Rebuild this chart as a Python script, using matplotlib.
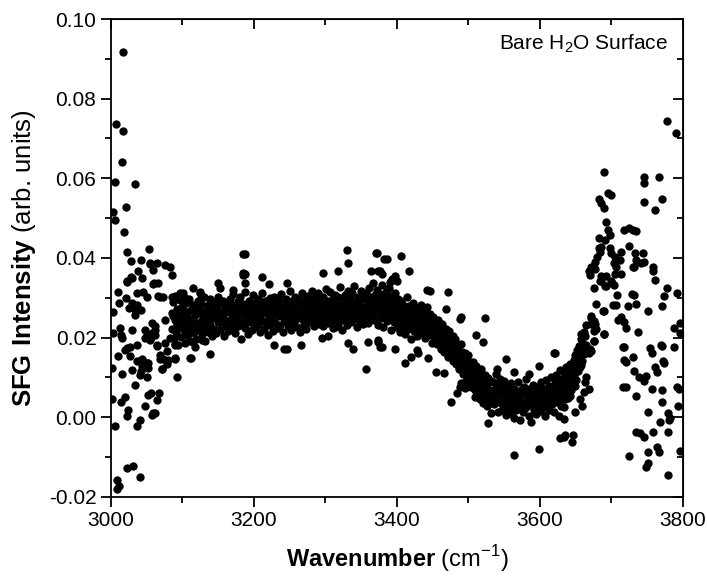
import numpy as np
import matplotlib
matplotlib.use("Agg")
import matplotlib.pyplot as plt
from matplotlib.ticker import MultipleLocator

plt.rcParams['font.family'] = ['Liberation Sans', 'DejaVu Sans']
plt.rcParams['mathtext.fontset'] = 'custom'
plt.rcParams['mathtext.rm'] = 'Liberation Sans'
plt.rcParams['mathtext.bf'] = 'Liberation Sans:bold'

# scattered points at the low-frequency edge (wavenumber, intensity)
left_edge = [
    (3017, 0.0918), (3007, 0.0737), (3017, 0.0720), (3016, 0.0640), (3006, 0.0590),
    (3033, 0.0585), (3021, 0.0527), (3003, 0.0515), (3005, 0.0495), (3018, 0.0464),
    (3022, 0.0414), (3053, 0.0423), (3028, 0.0392), (3042, 0.0395), (3055, 0.0386),
    (3065, 0.0387), (3076, 0.0382), (3082, 0.0377), (3059, 0.0370), (3038, 0.0366),
    (3085, 0.0356), (3044, 0.0350), (3029, 0.0350), (3023, 0.0341), (3060, 0.0337),
    (3010, 0.0315), (3011, 0.0286), (3021, 0.0299), (3029, 0.0288), (3036, 0.0282),
    (3045, 0.0315), (3050, 0.0301), (3036, 0.0311), (3025, 0.0274), (3033, 0.0270),
    (3037, 0.0272), (3042, 0.0270), (3003, 0.0265), (3034, 0.0257), (3066, 0.0304),
    (3073, 0.0303), (3085, 0.0303), (3096, 0.0311), (3103, 0.0299), (3115, 0.0324),
    (3124, 0.0311), (3075, 0.0244), (3087, 0.0253), (3092, 0.0228), (3099, 0.0244),
    (3106, 0.0265), (3113, 0.0270), (3124, 0.0294), (3127, 0.0244), (3117, 0.0219),
    (3110, 0.0211), (3103, 0.0186), (3115, 0.0190), (3127, 0.0194), (3112, 0.0148),
    (3013, 0.0224), (3014, 0.0207), (3003, 0.0211), (3030, 0.0219), (3015, 0.0198),
    (3048, 0.0219), (3051, 0.0207), (3057, 0.0211), (3062, 0.0207), (3062, 0.0228),
    (3048, 0.0198), (3055, 0.0196), (3027, 0.0177), (3022, 0.0173), (3019, 0.0169),
    (3037, 0.0182), (3064, 0.0180), (3075, 0.0186), (3083, 0.0198), (3090, 0.0184),
    (3078, 0.0165), (3069, 0.0156), (3073, 0.0146), (3010, 0.0154), (3027, 0.0154),
    (3036, 0.0141), (3044, 0.0146), (3050, 0.0136), (3044, 0.0128), (3052, 0.0124),
    (3001, 0.0124), (3029, 0.0118), (3015, 0.0109), (3041, 0.0106), (3051, 0.0102),
    (3071, 0.0121), (3079, 0.0134), (3090, 0.0146), (3093, 0.0100), (3033, 0.0081),
    (3052, 0.0056), (3056, 0.0060), (3067, 0.0060), (3064, 0.0043), (3048, 0.0029),
    (3059, 0.0010), (3057, 0.0006), (3001, 0.0046), (3019, 0.0050), (3014, 0.0037),
    (3024, 0.0017), (3023, 0.0002), (3041, -0.0007), (3037, -0.0022), (3005, -0.0022),
    (3023, -0.0128), (3031, -0.0122), (3041, -0.0151), (3008, -0.0157), (3011, -0.0174),
    (3009, -0.0180), (3054, 0.0194), (3057, 0.0236), (3061, 0.0219), (3064, 0.0182),
    (3043, 0.0144), (3052, 0.0136), (3042, 0.0115), (3069, 0.0146), (3072, 0.0121),
    (3080, 0.0144), (3090, 0.0148), (3111, 0.0148), (3090, 0.0182), (3069, 0.0303),
    (3066, 0.0338), (3059, 0.0335), (3054, 0.0384), (3061, 0.0010), (3022, 0.0340),
    (3028, 0.0351),
]

# main band, one point per wavenumber
band_wn = [
    3085, 3086, 3087, 3088, 3089, 3090, 3091, 3092, 3093, 3094,
    3095, 3096, 3097, 3098, 3099, 3100, 3101, 3102, 3103, 3104,
    3105, 3106, 3107, 3108, 3109, 3110, 3111, 3112, 3113, 3114,
    3115, 3116, 3117, 3118, 3119, 3120, 3121, 3122, 3123, 3124,
    3125, 3126, 3127, 3128, 3129, 3130, 3131, 3132, 3133, 3134,
    3135, 3136, 3137, 3138, 3139, 3140, 3141, 3142, 3143, 3144,
    3145, 3146, 3147, 3148, 3149, 3150, 3151, 3152, 3153, 3154,
    3155, 3156, 3157, 3158, 3159, 3160, 3161, 3162, 3163, 3164,
    3165, 3166, 3167, 3168, 3169, 3170, 3171, 3172, 3173, 3174,
    3175, 3176, 3177, 3178, 3179, 3180, 3181, 3182, 3183, 3184,
    3185, 3186, 3187, 3188, 3189, 3190, 3191, 3192, 3193, 3194,
    3195, 3196, 3197, 3198, 3199, 3200, 3201, 3202, 3203, 3204,
    3205, 3206, 3207, 3208, 3209, 3210, 3211, 3212, 3213, 3214,
    3215, 3216, 3217, 3218, 3219, 3220, 3221, 3222, 3223, 3224,
    3225, 3226, 3227, 3228, 3229, 3230, 3231, 3232, 3233, 3234,
    3235, 3236, 3237, 3238, 3239, 3240, 3241, 3242, 3243, 3244,
    3245, 3246, 3247, 3248, 3249, 3250, 3251, 3252, 3253, 3254,
    3255, 3256, 3257, 3258, 3259, 3260, 3261, 3262, 3263, 3264,
    3265, 3266, 3267, 3268, 3269, 3270, 3271, 3272, 3273, 3274,
    3275, 3276, 3277, 3278, 3279, 3280, 3281, 3282, 3283, 3284,
    3285, 3286, 3287, 3288, 3289, 3290, 3291, 3292, 3293, 3294,
    3295, 3296, 3297, 3298, 3299, 3300, 3301, 3302, 3303, 3304,
    3305, 3306, 3307, 3308, 3309, 3310, 3311, 3312, 3313, 3314,
    3315, 3316, 3317, 3318, 3319, 3320, 3321, 3322, 3323, 3324,
    3325, 3326, 3327, 3328, 3329, 3330, 3331, 3332, 3333, 3334,
    3335, 3336, 3337, 3338, 3339, 3340, 3341, 3342, 3343, 3344,
    3345, 3346, 3347, 3348, 3349, 3350, 3351, 3352, 3353, 3354,
    3355, 3356, 3357, 3358, 3359, 3360, 3361, 3362, 3363, 3364,
    3365, 3366, 3367, 3368, 3369, 3370, 3371, 3372, 3373, 3374,
    3375, 3376, 3377, 3378, 3379, 3380, 3381, 3382, 3383, 3384,
    3385, 3386, 3387, 3388, 3389, 3390, 3391, 3392, 3393, 3394,
    3395, 3396, 3397, 3398, 3399, 3400, 3401, 3402, 3403, 3404,
    3405, 3406, 3407, 3408, 3409, 3410, 3411, 3412, 3413, 3414,
    3415, 3416, 3417, 3418, 3419, 3420, 3421, 3422, 3423, 3424,
    3425, 3426, 3427, 3428, 3429, 3430, 3431, 3432, 3433, 3434,
    3435, 3436, 3437, 3438, 3439, 3440, 3441, 3442, 3443, 3444,
    3445, 3446, 3447, 3448, 3449, 3450, 3451, 3452, 3453, 3454,
    3455, 3456, 3457, 3458, 3459, 3460, 3461, 3462, 3463, 3464,
    3465, 3466, 3467, 3468, 3469, 3470, 3471, 3472, 3473, 3474,
    3475, 3476, 3477, 3478, 3479, 3480, 3481, 3482, 3483, 3484,
    3485, 3486, 3487, 3488, 3489, 3490, 3491, 3492, 3493, 3494,
    3495, 3496, 3497, 3498, 3499, 3500, 3501, 3502, 3503, 3504,
    3505, 3506, 3507, 3508, 3509, 3510, 3511, 3512, 3513, 3514,
    3515, 3516, 3517, 3518, 3519, 3520, 3521, 3522, 3523, 3524,
    3525, 3526, 3527, 3528, 3529, 3530, 3531, 3532, 3533, 3534,
    3535, 3536, 3537, 3538, 3539, 3540, 3541, 3542, 3543, 3544,
    3545, 3546, 3547, 3548, 3549, 3550, 3551, 3552, 3553, 3554,
    3555, 3556, 3557, 3558, 3559, 3560, 3561, 3562, 3563, 3564,
    3565, 3566, 3567, 3568, 3569, 3570, 3571, 3572, 3573, 3574,
    3575, 3576, 3577, 3578, 3579, 3580, 3581, 3582, 3583, 3584,
    3585, 3586, 3587, 3588, 3589, 3590, 3591, 3592, 3593, 3594,
    3595, 3596, 3597, 3598, 3599, 3600, 3601, 3602, 3603, 3604,
    3605, 3606, 3607, 3608, 3609, 3610, 3611, 3612, 3613, 3614,
    3615, 3616, 3617, 3618, 3619, 3620, 3621, 3622, 3623, 3624,
    3625, 3626, 3627, 3628, 3629, 3630, 3631, 3632, 3633, 3634,
    3635, 3636, 3637, 3638, 3639, 3640, 3641, 3642, 3643, 3644,
    3645, 3646, 3647, 3648, 3649, 3650, 3651, 3652, 3653, 3654,
    3655, 3656, 3657, 3658, 3659, 3660, 3661, 3662, 3663, 3664,
]
band_sfg = [
    0.0262, 0.0221, 0.0289, 0.0198, 0.0245, 0.0305, 0.0213, 0.0271, 0.0236, 0.0182,
    0.0258, 0.0294, 0.0227, 0.0201, 0.0276, 0.0249, 0.0312, 0.0219, 0.0265, 0.0233,
    0.0287, 0.0206, 0.0252, 0.0229, 0.0298, 0.0241, 0.0191, 0.0268, 0.0224, 0.0282,
    0.0247, 0.0214, 0.0279, 0.0256, 0.0197, 0.0236, 0.0291, 0.0262, 0.0218, 0.0273,
    0.0231, 0.0284, 0.0209, 0.0258, 0.0244, 0.0301, 0.0226, 0.0192, 0.0267, 0.0239,
    0.0281, 0.0215, 0.0254, 0.0297, 0.0232, 0.0263, 0.0205, 0.0276, 0.0248, 0.0222,
    0.0289, 0.0257, 0.0211, 0.0271, 0.0238, 0.0302, 0.0246, 0.0219, 0.0284, 0.0261,
    0.0228, 0.0293, 0.0252, 0.0203, 0.0269, 0.0241, 0.0286, 0.0234, 0.0275, 0.0216,
    0.0264, 0.0298, 0.0243, 0.0225, 0.0281, 0.0255, 0.0309, 0.0237, 0.0268, 0.0212,
    0.0277, 0.0249, 0.0291, 0.0229, 0.0262, 0.0303, 0.0241, 0.0196, 0.0272, 0.0285,
    0.0236, 0.0259, 0.0314, 0.0223, 0.0281, 0.0247, 0.0266, 0.0208, 0.0293, 0.0254,
    0.0238, 0.0279, 0.0219, 0.0306, 0.0261, 0.0244, 0.0287, 0.0227, 0.0272, 0.0252,
    0.0296, 0.0233, 0.0268, 0.0214, 0.0283, 0.0258, 0.0311, 0.0242, 0.0276, 0.0221,
    0.0263, 0.0292, 0.0239, 0.0274, 0.0206, 0.0287, 0.0251, 0.0299, 0.0231, 0.0266,
    0.0245, 0.0281, 0.0217, 0.0302, 0.0258, 0.0236, 0.0289, 0.0271, 0.0224, 0.0295,
    0.0253, 0.0278, 0.0232, 0.0309, 0.0264, 0.0213, 0.0286, 0.0248, 0.0274, 0.0241,
    0.0297, 0.0259, 0.0228, 0.0283, 0.0245, 0.0316, 0.0267, 0.0219, 0.0291, 0.0255,
    0.0272, 0.0236, 0.0303, 0.0261, 0.0284, 0.0226, 0.0296, 0.0249, 0.0277, 0.0215,
    0.0288, 0.0257, 0.0312, 0.0243, 0.0269, 0.0231, 0.0294, 0.0266, 0.0221, 0.0282,
    0.0251, 0.0305, 0.0274, 0.0238, 0.0291, 0.0262, 0.0318, 0.0246, 0.0279, 0.0228,
    0.0299, 0.0264, 0.0241, 0.0286, 0.0256, 0.0311, 0.0233, 0.0276, 0.0294, 0.0249,
    0.0271, 0.0228, 0.0302, 0.0259, 0.0285, 0.0244, 0.0321, 0.0267, 0.0236, 0.0292,
    0.0256, 0.0281, 0.0314, 0.0242, 0.0273, 0.0297, 0.0225, 0.0288, 0.0261, 0.0306,
    0.0248, 0.0279, 0.0234, 0.0301, 0.0266, 0.0327, 0.0253, 0.0284, 0.0219, 0.0295,
    0.0272, 0.0245, 0.0308, 0.0262, 0.0289, 0.0231, 0.0316, 0.0276, 0.0252, 0.0298,
    0.0267, 0.0239, 0.0311, 0.0283, 0.0257, 0.0329, 0.0246, 0.0293, 0.0274, 0.0226,
    0.0302, 0.0264, 0.0287, 0.0241, 0.0318, 0.0271, 0.0253, 0.0296, 0.0234, 0.0309,
    0.0277, 0.0249, 0.0313, 0.0268, 0.0291, 0.0236, 0.0324, 0.0259, 0.0282, 0.0302,
    0.0255, 0.0336, 0.0273, 0.0244, 0.0307, 0.0286, 0.0261, 0.0319, 0.0232, 0.0294,
    0.0271, 0.0309, 0.0248, 0.0285, 0.0332, 0.0263, 0.0226, 0.0297, 0.0254, 0.0314,
    0.0279, 0.0242, 0.0306, 0.0268, 0.0325, 0.0251, 0.0289, 0.0219, 0.0301, 0.0264,
    0.0285, 0.0238, 0.0311, 0.0259, 0.0276, 0.0227, 0.0298, 0.0247, 0.0269, 0.0214,
    0.0292, 0.0241, 0.0263, 0.0224, 0.0281, 0.0256, 0.0208, 0.0272, 0.0236, 0.0301,
    0.0249, 0.0221, 0.0278, 0.0234, 0.0258, 0.0197, 0.0267, 0.0243, 0.0286, 0.0216,
    0.0254, 0.0229, 0.0274, 0.0205, 0.0246, 0.0263, 0.0218, 0.0239, 0.0281, 0.0226,
    0.0252, 0.0211, 0.0268, 0.0235, 0.0199, 0.0257, 0.0224, 0.0276, 0.0241, 0.0206,
    0.0229, 0.0258, 0.0208, 0.0241, 0.0187, 0.0252, 0.0221, 0.0198, 0.0243, 0.0212,
    0.0228, 0.0184, 0.0213, 0.0244, 0.0195, 0.0226, 0.0171, 0.0207, 0.0234, 0.0189,
    0.0211, 0.0163, 0.0196, 0.0222, 0.0176, 0.0205, 0.0152, 0.0188, 0.0216, 0.0168,
    0.0192, 0.0153, 0.0178, 0.0205, 0.0141, 0.0171, 0.0196, 0.0134, 0.0162, 0.0183,
    0.0146, 0.0172, 0.0121, 0.0157, 0.0185, 0.0128, 0.0164, 0.0108, 0.0149, 0.0136,
    0.0161, 0.0115, 0.0142, 0.0094, 0.0131, 0.0155, 0.0103, 0.0139, 0.0076, 0.0121,
    0.0101, 0.0138, 0.0089, 0.0114, 0.0067, 0.0129, 0.0094, 0.0052, 0.0108, 0.0076,
    0.0099, 0.0045, 0.0084, 0.0121, 0.0063, 0.0094, 0.0036, 0.0075, 0.0106, 0.0051,
    0.0084, 0.0027, 0.0071, 0.0099, 0.0044, 0.0063, 0.0011, 0.0091, 0.0052, 0.0035,
    0.0089, 0.0032, 0.0071, 0.0109, 0.0045, 0.0062, 0.0014, 0.0083, 0.0052, 0.0097,
    0.0036, 0.0074, 0.0019, 0.0058, 0.0091, 0.0027, 0.0065, 0.0043, 0.0006, 0.0079,
    0.0048, 0.0021, 0.0067, 0.0035, 0.0085, 0.0011, 0.0054, 0.0029, 0.0072, -0.0003,
    0.0041, 0.0063, 0.0017, 0.0052, 0.0089, 0.0025, 0.0046, -0.0008, 0.0069, 0.0033,
    0.0058, 0.0012, 0.0077, 0.0038, 0.0022, 0.0061, 0.0095, 0.0028, 0.0049, 0.0004,
    0.0071, 0.0035, 0.0056, -0.0012, 0.0043, 0.0082, 0.0019, 0.0064, 0.0031, 0.0053,
    0.0009, 0.0076, 0.0042, 0.0024, 0.0067, 0.0037, 0.0088, 0.0015, 0.0059, 0.0046,
    0.0027, 0.0071, 0.0003, 0.0052, 0.0093, 0.0036, 0.0065, 0.0018, 0.0079, 0.0044,
    0.0061, 0.0102, 0.0032, 0.0075, 0.0051, 0.0014, 0.0087, 0.0058, 0.0107, 0.0039,
    0.0073, 0.0096, 0.0047, 0.0118, 0.0064, 0.0028, 0.0091, 0.0056, 0.0113, 0.0081,
    0.0104, 0.0062, 0.0127, 0.0088, 0.0049, 0.0115, 0.0076, 0.0134, 0.0098, 0.0068,
    0.0121, 0.0085, 0.0143, 0.0107, 0.0156, 0.0093, 0.0132, 0.0168, 0.0116, 0.0149,
    0.0178, 0.0125, 0.0162, 0.0196, 0.0141, 0.0185, 0.0214, 0.0158, 0.0203, 0.0231,
]

# points scattered above and below the band
band_outliers = [
    (3184, 0.0410), (3188, 0.0410), (3184, 0.0357), (3187, 0.0359), (3211, 0.0351),
    (3185, 0.0362), (3187, 0.0338), (3221, 0.0335), (3246, 0.0338), (3150, 0.0338),
    (3152, 0.0324), (3171, 0.0320), (3138, 0.0159), (3228, 0.0181), (3242, 0.0170),
    (3124, 0.0315), (3117, 0.0177), (3330, 0.0421), (3332, 0.0386), (3370, 0.0413),
    (3382, 0.0398), (3297, 0.0362), (3318, 0.0368), (3364, 0.0366), (3374, 0.0366),
    (3356, 0.0121), (3266, 0.0182), (3332, 0.0186), (3339, 0.0172), (3360, 0.0189),
    (3376, 0.0177), (3374, 0.0189), (3246, 0.0170), (3295, 0.0198), (3304, 0.0203),
    (3313, 0.0226), (3372, 0.0413), (3386, 0.0398), (3406, 0.0404), (3417, 0.0366),
    (3397, 0.0355), (3400, 0.0343), (3393, 0.0347), (3390, 0.0339), (3376, 0.0368),
    (3379, 0.0360), (3442, 0.0320), (3446, 0.0316), (3472, 0.0314), (3469, 0.0271),
    (3490, 0.0252), (3488, 0.0246), (3374, 0.0194), (3379, 0.0177), (3397, 0.0170),
    (3411, 0.0137), (3420, 0.0152), (3428, 0.0169), (3430, 0.0160), (3455, 0.0114),
    (3466, 0.0111), (3443, 0.0148), (3475, 0.0037), (3484, 0.0060), (3490, 0.0085),
    (3488, 0.0077), (3504, 0.0078), (3495, 0.0073), (3497, 0.0092), (3504, 0.0105),
    (3494, 0.0117), (3523, 0.0250), (3511, 0.0207), (3521, 0.0189), (3563, -0.0095),
    (3598, -0.0080), (3620, 0.0160), (3598, 0.0129), (3584, 0.0108), (3528, -0.0015),
    (3509, 0.0051), (3524, 0.0035), (3552, 0.0146), (3540, 0.0121), (3563, 0.0113),
    (3628, -0.0053), (3635, -0.0044), (3646, -0.0046), (3645, -0.0063), (3634, -0.0049),
]

# free OH region and high-frequency edge
right_edge = [
    (3668, 0.0366), (3675, 0.0325), (3684, 0.0342), (3691, 0.0329), (3679, 0.0285),
    (3689, 0.0266), (3672, 0.0254), (3676, 0.0242), (3671, 0.0233), (3679, 0.0221),
    (3690, 0.0208), (3658, 0.0208), (3675, 0.0191), (3665, 0.0182), (3672, 0.0165),
    (3668, 0.0161), (3661, 0.0161), (3649, 0.0146), (3654, 0.0138), (3658, 0.0130),
    (3651, 0.0125), (3647, 0.0121), (3642, 0.0116), (3639, 0.0112), (3665, 0.0100),
    (3663, 0.0088), (3668, 0.0071), (3661, 0.0063), (3656, 0.0046), (3659, 0.0028),
    (3647, 0.0092), (3649, 0.0079), (3639, 0.0084), (3635, 0.0071), (3630, 0.0079),
    (3625, 0.0092), (3642, 0.0054), (3635, 0.0046), (3628, 0.0038), (3634, 0.0025),
    (3649, 0.0012), (3627, 0.0004), (3634, -0.0004), (3717, 0.0177), (3718, 0.0144),
    (3716, 0.0075), (3714, 0.0251), (3621, 0.0160), (3656, 0.0162), (3661, 0.0179),
    (3670, 0.0170), (3675, 0.0191), (3676, 0.0216), (3689, 0.0208), (3677, 0.0233),
    (3672, 0.0250), (3688, 0.0266), (3670, 0.0356), (3677, 0.0371), (3686, 0.0342),
    (3692, 0.0329), (3700, 0.0342), (3701, 0.0338), (3703, 0.0333), (3708, 0.0306),
    (3702, 0.0281), (3706, 0.0282), (3709, 0.0245), (3717, 0.0238), (3721, 0.0225),
    (3723, 0.0280), (3734, 0.0284), (3729, 0.0309), (3731, 0.0307), (3737, 0.0214),
    (3716, 0.0176), (3721, 0.0138), (3730, 0.0151), (3731, 0.0117), (3721, 0.0075),
    (3734, 0.0054), (3739, 0.0100), (3745, 0.0092), (3749, 0.0104), (3751, 0.0012),
    (3756, 0.0072), (3754, 0.0173), (3756, 0.0160), (3761, 0.0127), (3764, 0.0114),
    (3770, 0.0179), (3769, 0.0182), (3772, 0.0140), (3774, 0.0135), (3770, 0.0067),
    (3771, 0.0038), (3768, -0.0011), (3779, 0.0010), (3782, -0.0002), (3779, -0.0036),
    (3787, 0.0175), (3787, 0.0223), (3796, 0.0237), (3796, 0.0212), (3791, 0.0075),
    (3795, 0.0072), (3793, 0.0029), (3796, -0.0084), (3735, -0.0036), (3740, -0.0040),
    (3745, -0.0049), (3751, -0.0088), (3758, -0.0036), (3764, -0.0074), (3766, -0.0088),
    (3751, -0.0116), (3749, -0.0124), (3725, -0.0098), (3779, -0.0145), (3770, 0.0280),
    (3774, 0.0305), (3778, 0.0325), (3791, 0.0311), (3758, 0.0366), (3761, 0.0345),
    (3751, 0.0266), (3742, 0.0386), (3731, 0.0377), (3780, -0.0007), (3778, 0.0744),
    (3790, 0.0715), (3690, 0.0615), (3745, 0.0604), (3745, 0.0587), (3766, 0.0604),
    (3745, 0.0540), (3761, 0.0520), (3771, 0.0547), (3682, 0.0547), (3686, 0.0537),
    (3695, 0.0562), (3700, 0.0558), (3689, 0.0525), (3693, 0.0489), (3695, 0.0470),
    (3683, 0.0451), (3691, 0.0445), (3698, 0.0457), (3717, 0.0470), (3724, 0.0474),
    (3730, 0.0470), (3734, 0.0467), (3725, 0.0430), (3682, 0.0424), (3686, 0.0428),
    (3684, 0.0416), (3680, 0.0403), (3677, 0.0391), (3672, 0.0378), (3698, 0.0424),
    (3700, 0.0412), (3705, 0.0403), (3703, 0.0387), (3707, 0.0378), (3712, 0.0395),
    (3714, 0.0416), (3733, 0.0412), (3735, 0.0395), (3745, 0.0391), (3744, 0.0412),
    (3730, 0.0378), (3758, 0.0378), (3686, 0.0355), (3692, 0.0355), (3705, 0.0360),
    (3714, 0.0359),
]

xs = list(band_wn)
ys = list(band_sfg)
for group in (left_edge, band_outliers, right_edge):
    gx, gy = zip(*group)
    xs += gx
    ys += gy

fig = plt.figure(figsize=(7.07, 5.77), dpi=100)
ax = fig.add_axes([0.157, 0.139, 0.809, 0.828])

ax.scatter(xs, ys, s=36, c='black', linewidths=0, zorder=3)

ax.set_xlim(3000, 3800)
ax.set_ylim(-0.02, 0.10)
ax.xaxis.set_major_locator(MultipleLocator(200))
ax.xaxis.set_minor_locator(MultipleLocator(100))
ax.yaxis.set_major_locator(MultipleLocator(0.02))
ax.yaxis.set_minor_locator(MultipleLocator(0.01))
ax.yaxis.set_major_formatter(plt.FormatStrFormatter('%.2f'))

for sp in ax.spines.values():
    sp.set_linewidth(1.3)
ax.tick_params(which='major', direction='out', length=7, width=1.3, labelsize=15)
ax.tick_params(which='minor', direction='out', length=4, width=1.3)

# mirrored ticks on top and right, pointing inward
top = ax.secondary_xaxis('top')
top.xaxis.set_major_locator(MultipleLocator(200))
top.xaxis.set_minor_locator(MultipleLocator(100))
top.tick_params(which='major', direction='in', length=7, width=1.3, labeltop=False)
top.tick_params(which='minor', direction='in', length=4, width=1.3)
right = ax.secondary_yaxis('right')
right.yaxis.set_major_locator(MultipleLocator(0.02))
right.yaxis.set_minor_locator(MultipleLocator(0.01))
right.tick_params(which='major', direction='in', length=7, width=1.3, labelright=False)
right.tick_params(which='minor', direction='in', length=4, width=1.3)

ax.set_xlabel(r'$\mathbf{Wavenumber}$ (cm$^{-1}$)', fontsize=17, labelpad=9)
ax.set_ylabel(r'$\mathbf{SFG\ Intensity}$ (arb. units)', fontsize=18.5, labelpad=8)
ax.text(0.974, 0.971, r'Bare H$_2$O Surface', transform=ax.transAxes,
        ha='right', va='top', fontsize=15)

fig.savefig('out.png', dpi=100)
